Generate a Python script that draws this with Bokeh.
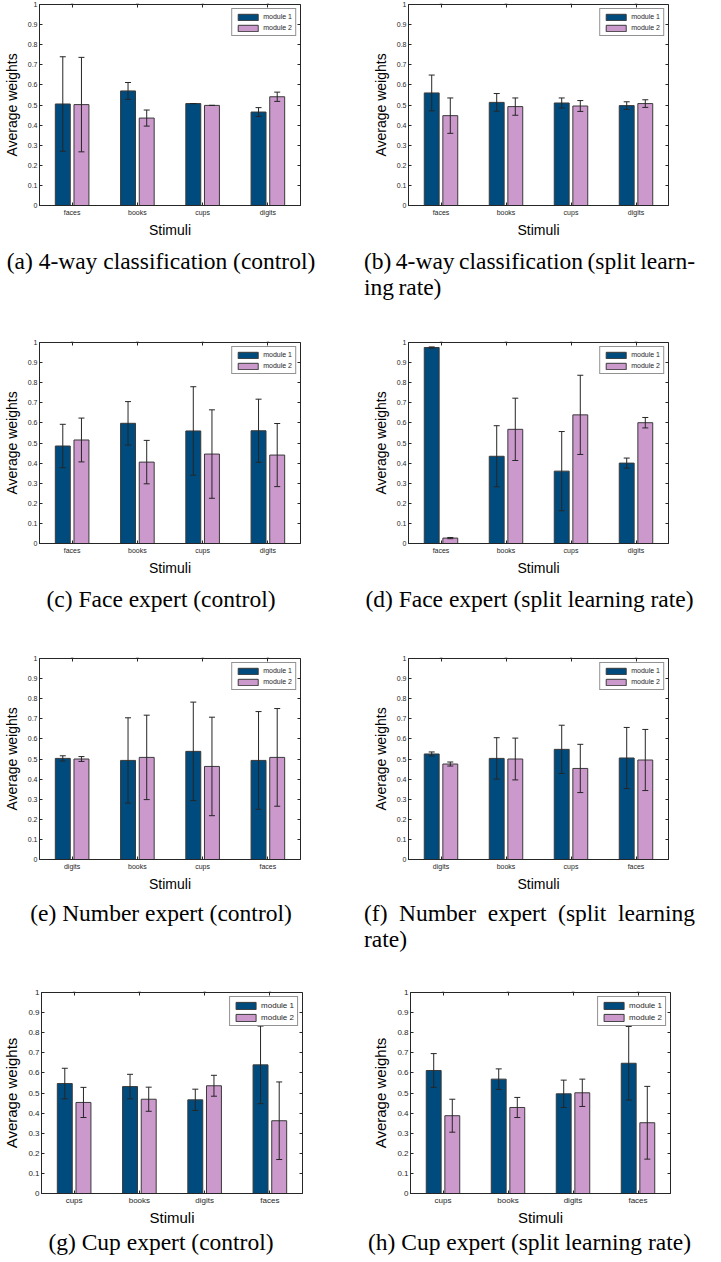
from bokeh.plotting import figure
from bokeh.models import (ColumnDataSource, FactorRange, CategoricalAxis, LinearAxis, FixedTicker,
                          CustomJSTickFormatter, Whisker, TeeHead, Div, Range1d)
from bokeh.transform import dodge
from bokeh.layouts import column, row
from bokeh.embed import file_html
from bokeh.resources import INLINE

# ---------------- data ----------------
cats_abcd = ["faces", "books", "cups", "digits"]
cats_ef = ["digits", "books", "cups", "faces"]
cats_gh = ["cups", "books", "digits", "faces"]
series_names = ["module 1", "module 2"]
y_ticks = [0, 0.1, 0.2, 0.3, 0.4, 0.5, 0.6, 0.7, 0.8, 0.9, 1]

# (a) 4-way classification (control)
a_m1 = [0.505, 0.570, 0.507, 0.465]
a_e1 = [0.235, 0.042, 0.0, 0.022]
a_m2 = [0.502, 0.435, 0.498, 0.541]
a_e2 = [0.235, 0.040, 0.0, 0.023]
# (b) 4-way classification (split learning rate)
b_m1 = [0.560, 0.513, 0.510, 0.497]
b_e1 = [0.089, 0.044, 0.025, 0.019]
b_m2 = [0.447, 0.492, 0.495, 0.507]
b_e2 = [0.088, 0.043, 0.027, 0.019]
# (c) Face expert (control)
c_m1 = [0.485, 0.598, 0.560, 0.561]
c_e1 = [0.108, 0.108, 0.220, 0.157]
c_m2 = [0.515, 0.405, 0.445, 0.440]
c_e2 = [0.109, 0.108, 0.220, 0.157]
# (d) Face expert (split learning rate)
d_m1 = [0.975, 0.434, 0.360, 0.400]
d_e1 = [0.003, 0.152, 0.197, 0.025]
d_m2 = [0.027, 0.568, 0.640, 0.601]
d_e2 = [0.003, 0.155, 0.197, 0.026]
# (e) Number expert (control)
e_m1 = [0.503, 0.493, 0.538, 0.493]
e_e1 = [0.013, 0.212, 0.245, 0.243]
e_m2 = [0.500, 0.508, 0.463, 0.508]
e_e2 = [0.012, 0.210, 0.245, 0.243]
# (f) Number expert (split learning rate)
f_m1 = [0.525, 0.503, 0.548, 0.505]
f_e1 = [0.010, 0.103, 0.120, 0.152]
f_m2 = [0.475, 0.500, 0.453, 0.495]
f_e2 = [0.010, 0.104, 0.120, 0.152]
# (g) Cup expert (control)
g_m1 = [0.547, 0.532, 0.466, 0.640]
g_e1 = [0.076, 0.061, 0.053, 0.193]
g_m2 = [0.453, 0.469, 0.536, 0.362]
g_e2 = [0.075, 0.060, 0.052, 0.193]
# (h) Cup expert (split learning rate)
h_m1 = [0.612, 0.569, 0.496, 0.648]
h_e1 = [0.084, 0.051, 0.068, 0.183]
h_m2 = [0.387, 0.428, 0.501, 0.352]
h_e2 = [0.082, 0.050, 0.068, 0.181]

captions = [
    "(a) 4-way classification (control)",
    "(b) 4-way classification (split learn&shy;ing rate)",
    "(c) Face expert (control)",
    "(d) Face expert (split learning rate)",
    "(e) Number expert (control)",
    "(f) Number expert (split learning rate)",
    "(g) Cup expert (control)",
    "(h) Cup expert (split learning rate)",
]

# ---------------- style ----------------
BLUE = "#004b7d"
PINK = "#cc99cc"
EDGE = "#3a3a3a"
AX = "#262626"
FONT = "Liberation Sans"
OFF = 0.143
BW = 0.229


def panel(cats, m1, e1, m2, e2, fw, bl, br, bt=4, bb=30, big=False):
    tick_fs = "8px" if big else "7px"
    lab_fs = "15px" if big else "14px"
    src = ColumnDataSource(dict(
        cat=cats, m1=m1, m2=m2,
        lo1=[m - e for m, e in zip(m1, e1)], hi1=[m + e for m, e in zip(m1, e1)],
        lo2=[m - e for m, e in zip(m2, e2)], hi2=[m + e for m, e in zip(m2, e2)],
    ))
    p = figure(x_range=FactorRange(*cats), y_range=Range1d(0, 1),
               frame_width=fw, frame_height=201,
               min_border_left=bl, min_border_right=br, min_border_top=bt, min_border_bottom=bb,
               output_backend="svg", toolbar_location=None,
               background_fill_color="white", border_fill_color="white", margin=0)
    p.grid.visible = False
    p.outline_line_color = AX
    p.outline_line_alpha = 1
    p.outline_line_width = 1

    for key, col, off, name in (("1", BLUE, -OFF, series_names[0]), ("2", PINK, OFF, series_names[1])):
        p.vbar(x=dodge("cat", off, range=p.x_range), top="m" + key, width=BW, source=src,
               fill_color=col, line_color=EDGE, line_width=1, legend_label=name)
    for key, off in (("1", -OFF), ("2", OFF)):
        w = Whisker(source=src, base=dodge("cat", off, range=p.x_range), upper="hi" + key, lower="lo" + key,
                    dimension="height", line_color=AX, line_width=1, level="glyph",
                    upper_head=TeeHead(size=6, line_color=AX, line_width=1),
                    lower_head=TeeHead(size=6, line_color=AX, line_width=1))
        p.add_layout(w)

    xa = p.xaxis[0]
    xa.axis_label = "Stimuli"
    xa.axis_label_text_font = FONT
    xa.axis_label_text_font_size = lab_fs
    xa.axis_label_text_font_style = "normal"
    xa.axis_label_text_color = "black"
    xa.axis_label_standoff = 1 if big else 3
    xa.major_label_text_font = FONT
    xa.major_label_text_font_size = tick_fs
    xa.major_label_text_color = AX
    xa.major_label_standoff = 2 if big else 3
    xa.major_tick_in = 3
    xa.major_tick_out = 0
    xa.axis_line_color = AX
    xa.major_tick_line_color = AX

    ya = p.yaxis[0]
    ya.ticker = FixedTicker(ticks=y_ticks)
    ya.formatter = CustomJSTickFormatter(code="return String(Math.round(tick*10)/10);")
    ya.axis_label = "Average weights"
    ya.axis_label_text_font = FONT
    ya.axis_label_text_font_size = lab_fs
    ya.axis_label_text_font_style = "normal"
    ya.axis_label_text_color = "black"
    ya.axis_label_standoff = 5
    ya.major_label_text_font = FONT
    ya.major_label_text_font_size = tick_fs
    ya.major_label_text_color = AX
    ya.major_label_standoff = 2
    ya.major_tick_in = 3
    ya.major_tick_out = 0
    ya.minor_tick_in = 0
    ya.minor_tick_out = 0
    ya.axis_line_color = AX
    ya.major_tick_line_color = AX

    top = CategoricalAxis(major_label_overrides={c: "" for c in cats}, major_tick_in=3, major_tick_out=0,
                          major_label_standoff=0, major_label_text_font_size="1px",
                          axis_line_color=None, major_tick_line_color=AX)
    p.add_layout(top, "above")
    right = LinearAxis(ticker=FixedTicker(ticks=y_ticks), formatter=CustomJSTickFormatter(code="return '';"),
                       major_tick_in=3, major_tick_out=0, minor_tick_in=0, minor_tick_out=0,
                       major_label_standoff=0, major_label_text_font_size="1px",
                       axis_line_color=None, major_tick_line_color=AX)
    p.add_layout(right, "right")

    lg = p.legend[0]
    lg.location = "top_right"
    lg.margin = 4
    lg.padding = 3
    lg.spacing = 2
    lg.label_height = 9 if not big else 10
    lg.glyph_height = 8 if not big else 9
    lg.glyph_width = 25
    lg.label_standoff = 3
    lg.label_text_font = FONT
    lg.label_text_font_size = tick_fs
    lg.label_text_color = AX
    lg.border_line_color = AX
    lg.border_line_width = 1
    lg.background_fill_alpha = 1
    return p


def caption_row(left, right, h, pad, justify=False):
    r_align = "justify" if justify else "center"
    r_extra = "word-spacing:-1.5px;" if justify else ""
    html = (
        f'<div style="position:relative;width:705px;height:{h}px;'
        f'font-family:\'Liberation Serif\',\'Times New Roman\',serif;font-size:23.5px;line-height:26px;color:#000;">'
        f'<div style="position:absolute;left:0px;top:{pad}px;width:322px;text-align:center;white-space:nowrap;">{left}</div>'
        f'<div style="position:absolute;left:364px;top:{pad}px;width:331px;text-align:{r_align};{r_extra}">{right}</div>'
        f'</div>'
    )
    return Div(text=html, width=705, height=h, margin=0)


L = dict(fw=261, bl=37, br=54)
R = dict(fw=260, bl=54, br=39)

pa = panel(cats_abcd, a_m1, a_e1, a_m2, a_e2, **L)
pb = panel(cats_abcd, b_m1, b_e1, b_m2, b_e2, **R)
pc = panel(cats_abcd, c_m1, c_e1, c_m2, c_e2, **L)
pd = panel(cats_abcd, d_m1, d_e1, d_m2, d_e2, **R)
pe = panel(cats_ef, e_m1, e_e1, e_m2, e_e2, **L)
pf = panel(cats_ef, f_m1, f_e1, f_m2, f_e2, **R)
pg = panel(cats_gh, g_m1, g_e1, g_m2, g_e2, big=True, **L)
ph = panel(cats_gh, h_m1, h_e1, h_m2, h_e2, big=True, **R)

layout = column(
    row(pa, pb, margin=0),
    caption_row(captions[0], captions[1], 98, 8, justify=True),
    row(pc, pd, margin=0),
    caption_row(captions[2], captions[3], 76, 8),
    row(pe, pf, margin=0),
    caption_row(captions[4], captions[5], 94, 6, justify=True),
    row(pg, ph, margin=0),
    caption_row(captions[6], captions[7], 30, 1),
    margin=0,
)

open("out.html", "w").write(file_html(layout, INLINE, "Average weights"))
